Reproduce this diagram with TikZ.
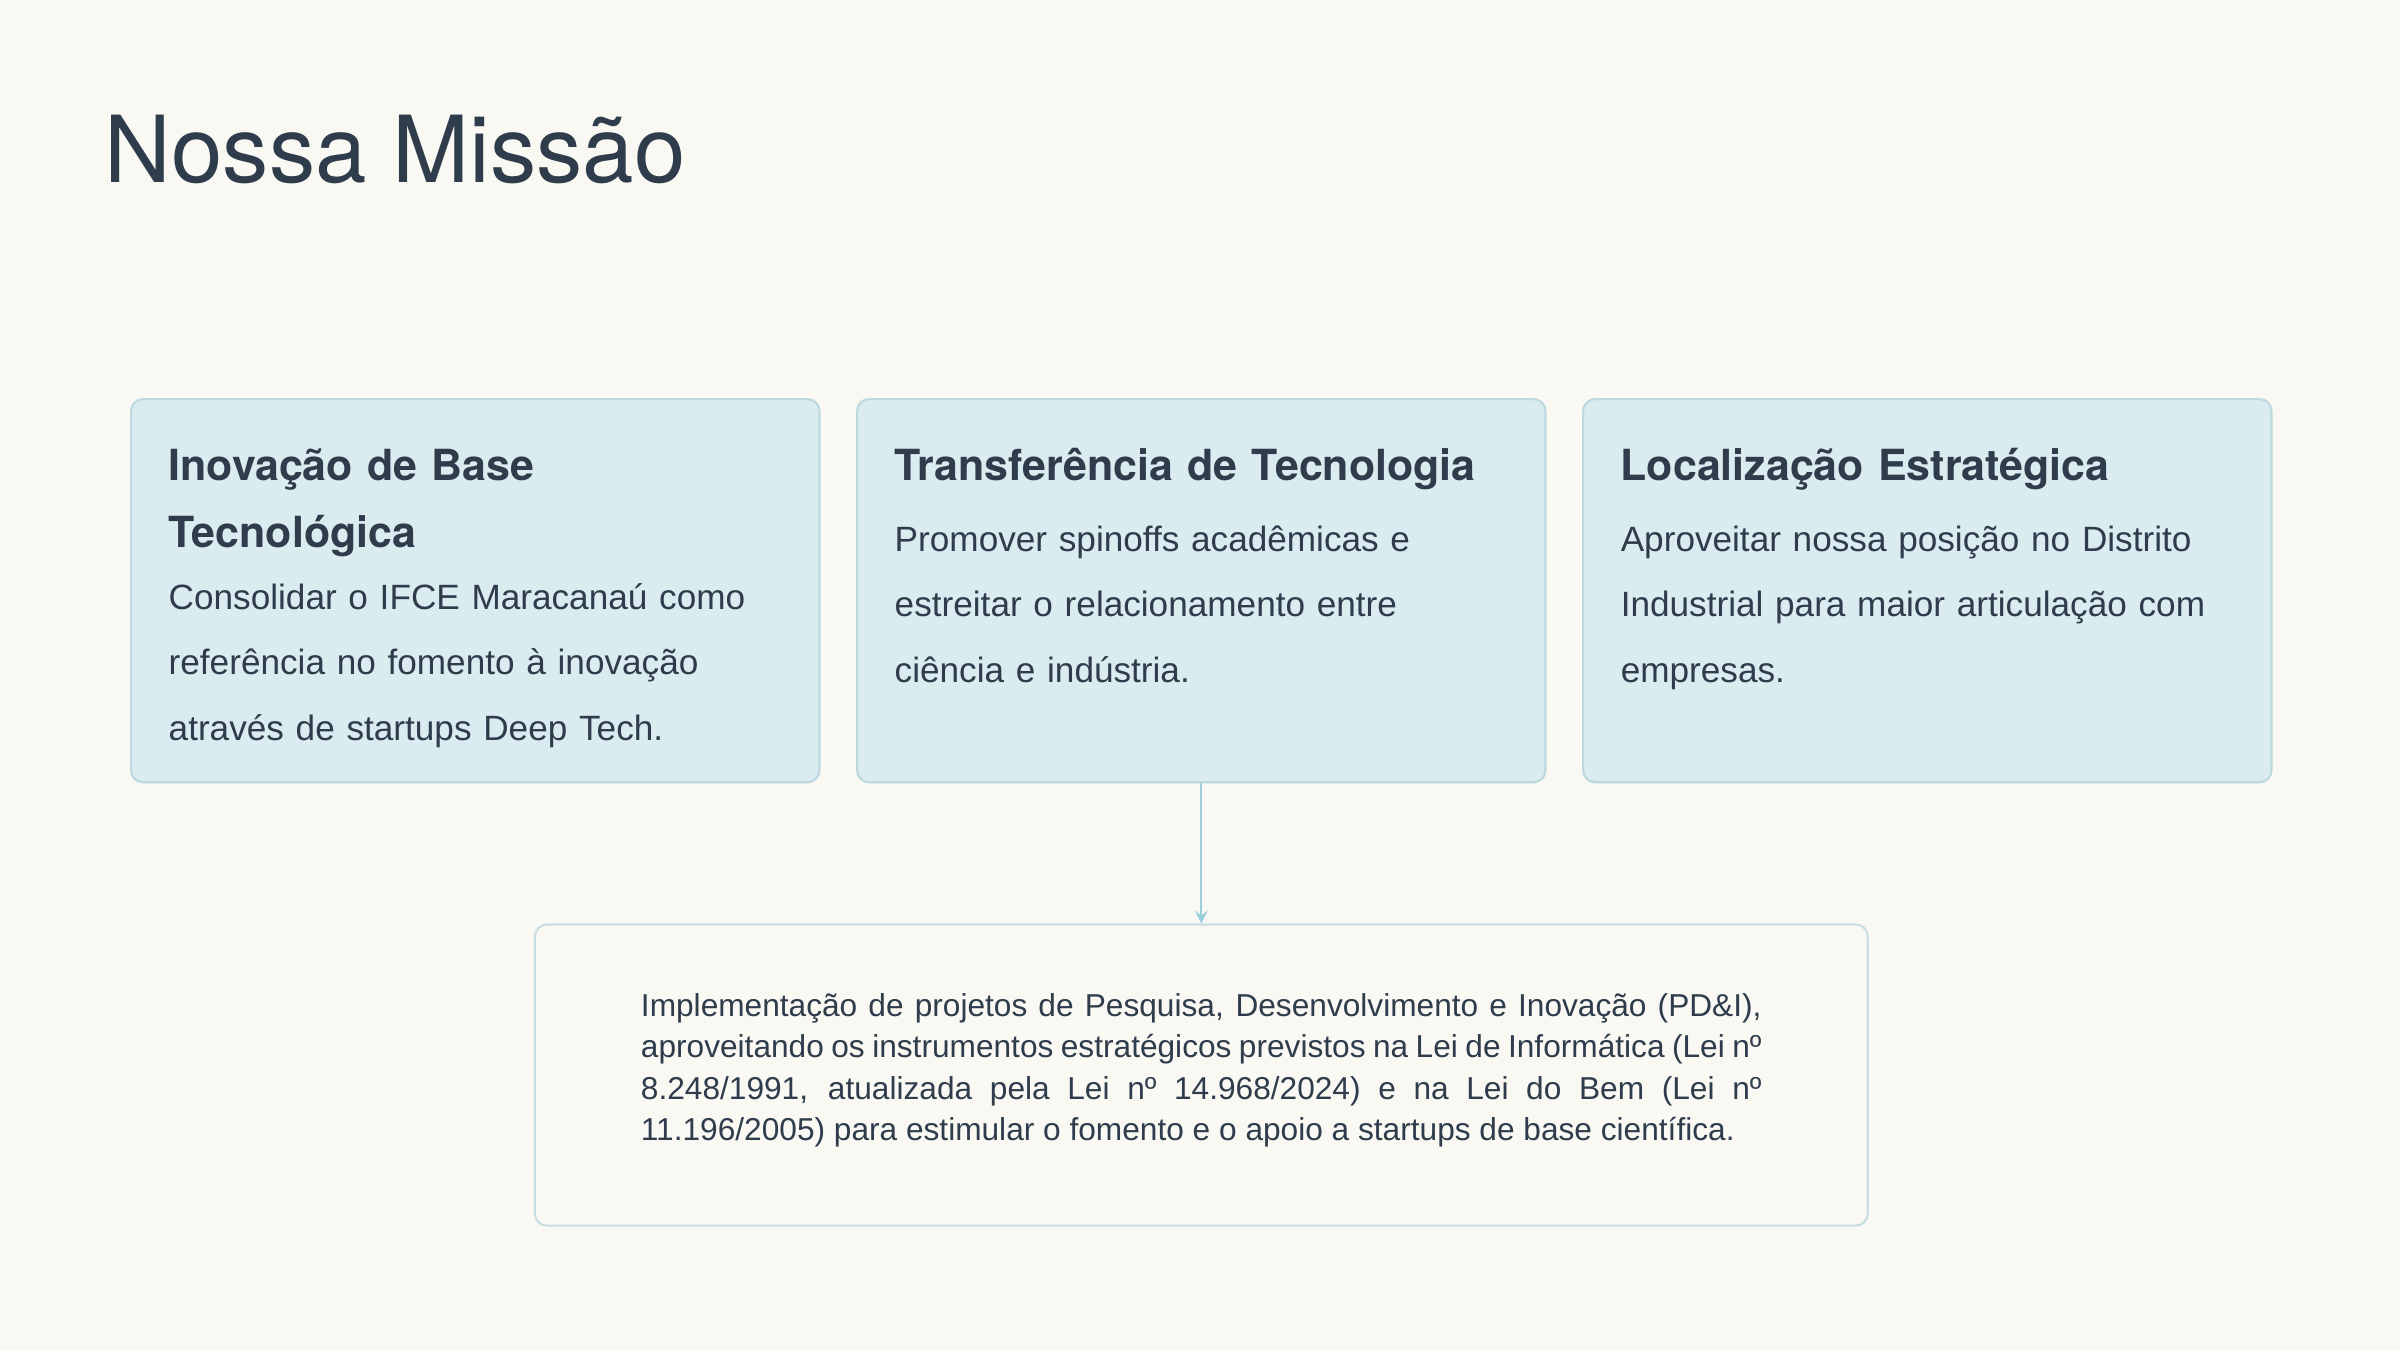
\documentclass[tikz,border=0pt]{standalone}
\usepackage{fontspec}
\setmainfont{Liberation Sans}
\newfontfamily\headfont{TeX Gyre Heros}
\usetikzlibrary{arrows, positioning, calc}
\definecolor{pagebg}{HTML}{F9F8F3}
\definecolor{inkslate}{HTML}{2E3C4C}
\definecolor{cardfill}{HTML}{DAECF0}
\definecolor{cardline}{HTML}{BDD8DF}
\definecolor{noteline}{HTML}{C8DEE3}
\definecolor{linkteal}{HTML}{9BCFDC}

\begin{document}
\begin{tikzpicture}[x=0.01cm, y=-0.01cm,
  card/.style={rectangle, rounded corners=0.12cm, draw=cardline, fill=cardfill, line width=0.6pt, minimum width=6.88cm, minimum height=3.83cm, inner sep=0pt},
  cardhead/.style={anchor=base west, text width=6.13cm, align=left, inner sep=0pt, text=inkslate, font=\headfont\bfseries\fontsize{12.2}{19.3}\selectfont},
  cardtext/.style={anchor=base west, text width=6.13cm, align=left, inner sep=0pt, text=inkslate, font=\fontsize{10}{18.7}\selectfont},
  notebox/.style={rectangle, rounded corners=0.12cm, draw=noteline, fill=pagebg, line width=0.6pt, text width=11.2cm, inner xsep=1.06cm, inner ysep=0pt, minimum height=3.01cm, align=justify, text=inkslate, font=\fontsize{9}{11.8}\selectfont},
  titletext/.style={anchor=base west, inner sep=0pt, text=inkslate, font=\headfont\fontsize{26.3}{30}\selectfont},
  arrow/.style={->, >=stealth, line width=0.6pt, color=linkteal}
]
% page
\fill[pagebg] (0,0) rectangle (2400,1350);
\node[titletext] (title) at (104,182) {Nossa Missão};

% the three cards
\node[card, anchor=north west] (inov) at (130,398) {};
\node[card, right=0.355cm of inov] (transf) {};
\node[card, right=0.355cm of transf] (local) {};

\node[cardhead] (inovhead) at ($(inov.north west)+(38,82)$) {Inovação de Base\\Tecnológica};
\node[cardtext] (inovtext) at ($(inov.north west)+(38,211)$) {Consolidar o IFCE Maracanaú como\\referência no fomento à inovação\\através de startups Deep Tech.};

\node[cardhead] (transfhead) at ($(transf.north west)+(38,82)$) {Transferência de Tecnologia};
\node[cardtext] (transftext) at ($(transf.north west)+(38,153)$) {Promover spinoffs acadêmicas e\\estreitar o relacionamento entre\\ciência e indústria.};

\node[cardhead] (localhead) at ($(local.north west)+(38,82)$) {Localização Estratégica};
\node[cardtext] (localtext) at ($(local.north west)+(38,153)$) {Aproveitar nossa posição no Distrito\\Industrial para maior articulação com\\empresas.};

% legal note
\node[notebox, below=1.40cm of transf] (lei) {Implementação de projetos de Pesquisa, Desenvolvimento e Inovação (PD\&I),\linebreak aproveitando os instrumentos estratégicos previstos na Lei de Informática (Lei nº\linebreak 8.248/1991, atualizada pela Lei nº 14.968/2024) e na Lei do Bem (Lei nº\linebreak 11.196/2005) para estimular o fomento e o apoio a startups de base científica.\rule[-0.16cm]{0pt}{0pt}};

\draw[arrow] (transf) -- (lei);
\end{tikzpicture}
\end{document}
